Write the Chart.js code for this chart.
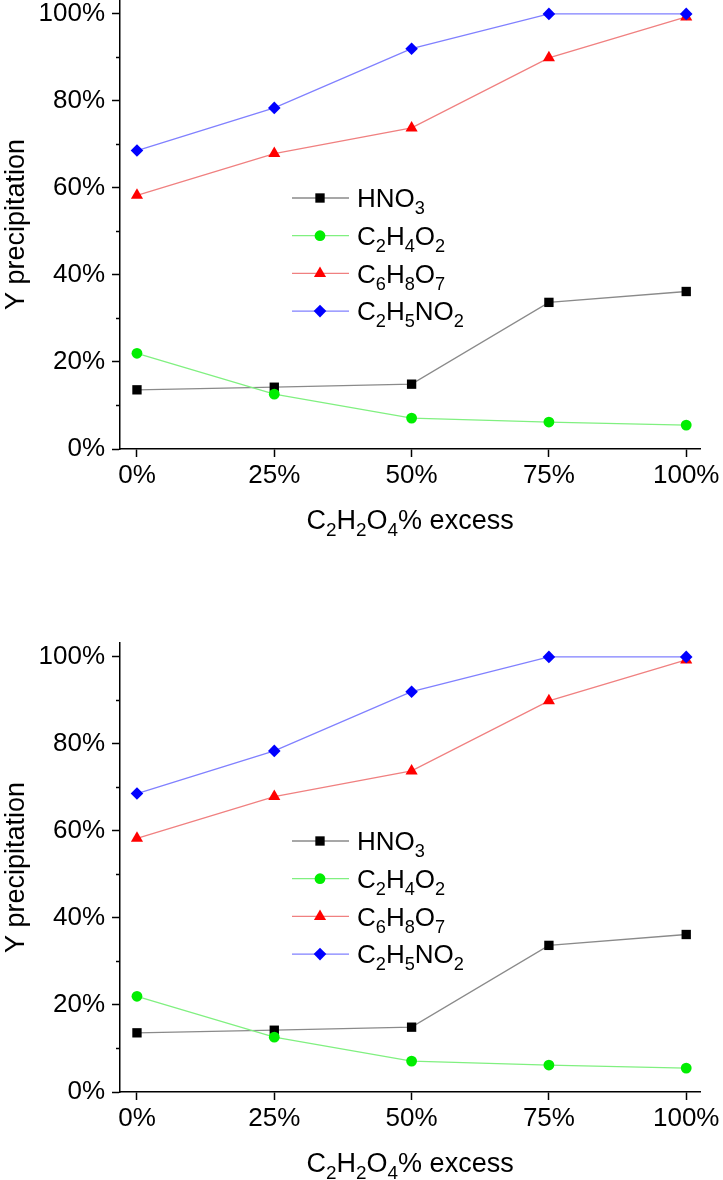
<!DOCTYPE html>
<html>
<head>
<meta charset="utf-8">
<script src="https://cdn.jsdelivr.net/npm/chart.js"></script>
<style>
  html, body { margin: 0; padding: 0; background: #fff; }
  body { width: 723px; height: 1180px; overflow: hidden; position: relative; }
  canvas { position: absolute; left: 0; }
</style>
</head>
<body>
<canvas id="chartTop" width="723" height="643" style="top:-106px"></canvas>
<canvas id="chartBottom" width="723" height="643" style="top:537px"></canvas>
<script>
// data (both panels show the same data)
const excess = [0, 25, 50, 75, 100];
const hno3 = [13.6, 14.2, 14.9, 33.7, 36.2];
const c2h4o2 = [22.0, 12.6, 7.1, 6.2, 5.5];
const c6h8o7 = [58.3, 67.9, 73.8, 89.9, 99.3];
const c2h5no2 = [68.6, 78.4, 92.0, 100, 100];

const xTicks = [0, 25, 50, 75, 100];
const yTicks = [0, 20, 40, 60, 80, 100];
const yMinorTicks = [10, 30, 50, 70, 90];

// labels split into [text, isSubscript]
const legendNames = [
  [['HNO', 0], ['3', 1]],
  [['C', 0], ['2', 1], ['H', 0], ['4', 1], ['O', 0], ['2', 1]],
  [['C', 0], ['6', 1], ['H', 0], ['8', 1], ['O', 0], ['7', 1]],
  [['C', 0], ['2', 1], ['H', 0], ['5', 1], ['NO', 0], ['2', 1]],
];
const xTitle = [['C', 0], ['2', 1], ['H', 0], ['2', 1], ['O', 0], ['4', 1], ['% excess', 0]];
const yTitle = 'Y precipitation';

const FONT = '"Liberation Sans", Arial, sans-serif';

function pts(values) {
  return values.map((v, i) => ({ x: excess[i], y: v }));
}

function subWidth(ctx, parts, size) {
  let w = 0;
  parts.forEach(p => {
    ctx.font = (p[1] ? size * 0.7 : size) + 'px ' + FONT;
    w += ctx.measureText(p[0]).width;
  });
  return w;
}

function drawSub(ctx, parts, x, y, size) {
  // y is the vertical middle of the main text
  const base = y + size * 0.36;
  ctx.textBaseline = 'alphabetic';
  ctx.textAlign = 'left';
  parts.forEach(p => {
    if (p[1]) {
      ctx.font = (size * 0.7) + 'px ' + FONT;
      ctx.fillText(p[0], x, base + size * 0.26);
    } else {
      ctx.font = size + 'px ' + FONT;
      ctx.fillText(p[0], x, base);
    }
    x += ctx.measureText(p[0]).width;
  });
}

function marker(ctx, style, r, x, y) {
  ctx.beginPath();
  if (style === 'rect') {
    const s = r * Math.SQRT1_2;
    ctx.rect(x - s, y - s, 2 * s, 2 * s);
  } else if (style === 'circle') {
    ctx.arc(x, y, r, 0, Math.PI * 2);
  } else if (style === 'triangle') {
    ctx.moveTo(x, y - r);
    ctx.lineTo(x + r * 0.866, y + r * 0.5);
    ctx.lineTo(x - r * 0.866, y + r * 0.5);
    ctx.closePath();
  } else {
    ctx.moveTo(x, y - r);
    ctx.lineTo(x + r, y);
    ctx.lineTo(x, y + r);
    ctx.lineTo(x - r, y);
    ctx.closePath();
  }
  ctx.fill();
}

const extras = {
  id: 'extras',
  afterDraw(chart) {
    const ctx = chart.ctx;
    const yScale = chart.scales.y;
    const xScale = chart.scales.x;
    ctx.save();
    // minor ticks on the y axis
    ctx.strokeStyle = '#000';
    ctx.lineWidth = 1.5;
    yMinorTicks.forEach(v => {
      const py = Math.round(yScale.getPixelForValue(v)) + 0.5;
      ctx.beginPath();
      ctx.moveTo(yScale.right - 4, py);
      ctx.lineTo(yScale.right, py);
      ctx.stroke();
    });
    // x axis title with subscripts
    ctx.fillStyle = '#000';
    const tSize = 27;
    const w = subWidth(ctx, xTitle, tSize);
    const cx = (chart.chartArea.left + chart.chartArea.right) / 2;
    drawSub(ctx, xTitle, cx - w / 2, xScale.top + 70, tSize);
    // legend
    chart.data.datasets.forEach((ds, i) => {
      const ly = 304 + i * 37.7;
      ctx.strokeStyle = ds.borderColor;
      ctx.lineWidth = 1.3;
      ctx.beginPath();
      ctx.moveTo(292, ly);
      ctx.lineTo(349, ly);
      ctx.stroke();
      ctx.fillStyle = ds.pointBackgroundColor;
      marker(ctx, ds.pointStyle, ds.pointRadius, 320, ly);
      ctx.fillStyle = '#000';
      drawSub(ctx, legendNames[i], 357, ly, 26);
    });
    ctx.restore();
  }
};

function makeChart(id) {
  return new Chart(document.getElementById(id), {
    type: 'line',
    data: {
      datasets: [{
        label: 'HNO3',
        data: pts(hno3),
        borderColor: '#8a8a8a',
        pointBackgroundColor: '#000',
        pointStyle: 'rect',
        pointRadius: 6.6,
        order: 2
      }, {
        label: 'C2H4O2',
        data: pts(c2h4o2),
        borderColor: '#80f080',
        pointBackgroundColor: '#00ee00',
        pointStyle: 'circle',
        pointRadius: 5.4,
        order: 1
      }, {
        label: 'C6H8O7',
        data: pts(c6h8o7),
        borderColor: '#f08080',
        pointBackgroundColor: '#ff0000',
        pointStyle: 'triangle',
        pointRadius: 7,
        order: 3
      }, {
        label: 'C2H5NO2',
        data: pts(c2h5no2),
        borderColor: '#8080ff',
        pointBackgroundColor: '#0000ff',
        pointStyle: 'rectRot',
        pointRadius: 6.3,
        order: 0
      }]
    },
    options: {
      responsive: false,
      animation: false,
      clip: false,
      layout: { padding: { top: 106, right: 22, left: 0, bottom: 0 } },
      elements: {
        line: { borderWidth: 1.3, tension: 0 },
        point: { borderWidth: 0, hoverRadius: 6 }
      },
      plugins: { legend: { display: false }, tooltip: { enabled: false } },
      scales: {
        x: {
          type: 'linear',
          min: -3.09,
          max: 102.55,
          afterBuildTicks: s => { s.ticks = xTicks.map(v => ({ value: v })); },
          afterFit: s => { s.height = 88; },
          border: { display: true, color: '#000', width: 1.5 },
          grid: { display: true, drawOnChartArea: false, drawTicks: true, tickLength: 8, tickColor: '#000', tickWidth: 1.5 },
          ticks: {
            color: '#000',
            padding: 3,
            maxRotation: 0,
            font: { family: FONT, size: 26 },
            callback: v => v + '%'
          },
          title: { display: false }
        },
        y: {
          min: 0,
          max: 103.2,
          afterBuildTicks: s => { s.ticks = yTicks.map(v => ({ value: v })); },
          afterFit: s => { s.width = 120; },
          border: { display: true, color: '#000', width: 1.5 },
          grid: { display: true, drawOnChartArea: false, drawTicks: true, tickLength: 8, tickColor: '#000', tickWidth: 1.5 },
          ticks: {
            color: '#000',
            padding: 7,
            font: { family: FONT, size: 26 },
            callback: v => v + '%'
          },
          title: {
            display: true,
            text: yTitle,
            color: '#000',
            padding: { top: 0, bottom: 0 },
            font: { family: FONT, size: 27 }
          }
        }
      }
    },
    plugins: [extras]
  });
}

makeChart('chartTop');
makeChart('chartBottom');
</script>
</body>
</html>
